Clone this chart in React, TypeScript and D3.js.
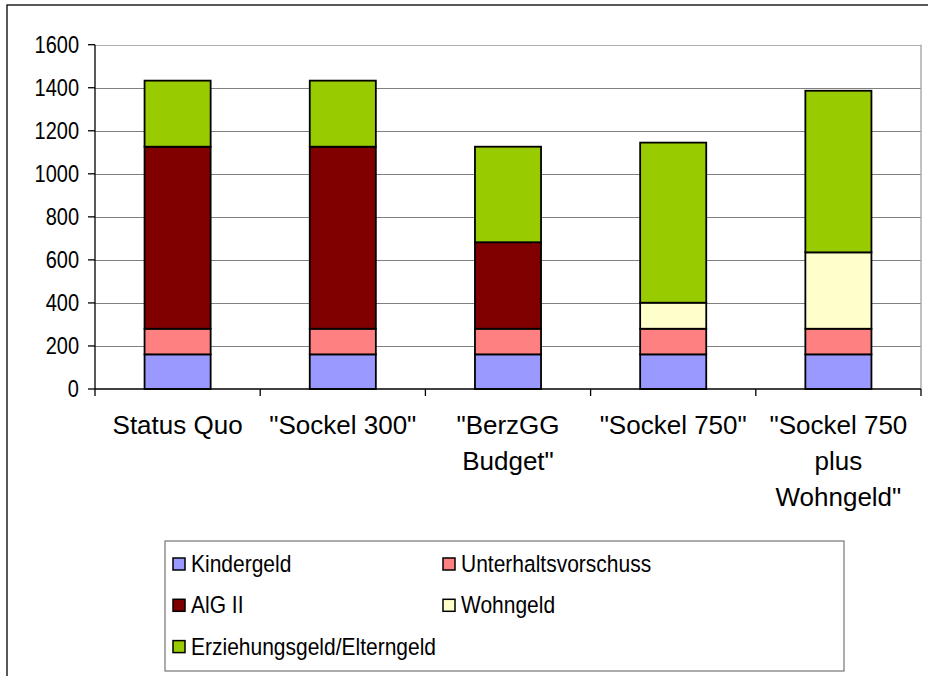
import React, { useRef, useEffect } from 'react';
import * as d3 from 'd3';

const categories = ['Status Quo', '"Sockel 300"', '"BerzGG Budget"', '"Sockel 750"', '"Sockel 750 plus Wohngeld"'];
const categoryLines = [['Status Quo'], ['"Sockel 300"'], ['"BerzGG', 'Budget"'], ['"Sockel 750"'], ['"Sockel 750', 'plus', 'Wohngeld"']];

const seriesNames = ['Kindergeld', 'Unterhaltsvorschuss', 'AlG II', 'Wohngeld', 'Erziehungsgeld/Elterngeld'];
const kindergeld = [161, 161, 161, 161, 161];
const unterhalt = [119, 119, 119, 119, 119];
const alg2 = [846, 846, 402, 0, 0];
const wohngeld = [0, 0, 0, 121, 355];
const erziehungsgeld = [307, 307, 444, 744, 751];
const colors = ['#9999ff', '#ff8080', '#800000', '#ffffcc', '#99cc00'];
const yTicks = [0, 200, 400, 600, 800, 1000, 1200, 1400, 1600];

const App = () => {
  const svgRef = useRef<SVGSVGElement>(null);

  useEffect(() => {
    const svg = d3.select(svgRef.current);
    svg.selectAll('*').remove();

    const left = 95, right = 921, top = 44.7, bottom = 389;
    const font = 'Arial, "Liberation Sans", sans-serif';

    // Rahmen
    svg.append('rect').attr('x', 7).attr('y', 5).attr('width', 940).attr('height', 700)
      .attr('fill', 'white').attr('stroke', '#000').attr('stroke-width', 1.3);

    const x = d3.scaleBand<string>().domain(categories).range([left, right]).paddingInner(0.6).paddingOuter(0.3);
    const xEdge = d3.scaleLinear().domain([0, categories.length]).range([left, right]);
    const y = d3.scaleLinear().domain([0, 1600]).range([bottom, top]);

    // Gitter
    svg.append('g').selectAll('line').data(yTicks.slice(1)).join('line')
      .attr('x1', left).attr('x2', right)
      .attr('y1', d => Math.round(y(d)) + 0.5).attr('y2', d => Math.round(y(d)) + 0.5)
      .attr('stroke', d => (d === 1600 ? '#b0b0b0' : '#808080')).attr('stroke-width', 1);
    svg.append('line').attr('x1', right).attr('x2', right).attr('y1', top).attr('y2', bottom)
      .attr('stroke', '#a0a0a0').attr('stroke-width', 1.3);

    // Balken
    const rows = categories.map((c, i) => ({
      cat: c,
      s0: kindergeld[i], s1: unterhalt[i], s2: alg2[i], s3: wohngeld[i], s4: erziehungsgeld[i],
    }));
    const stack = d3.stack<any>().keys(['s0', 's1', 's2', 's3', 's4'])(rows);
    stack.forEach((layer, li) => {
      svg.append('g').selectAll('rect').data(layer.filter(d => d[1] - d[0] > 0)).join('rect')
        .attr('x', d => x(d.data.cat)!)
        .attr('y', d => y(d[1]))
        .attr('width', x.bandwidth())
        .attr('height', d => y(d[0]) - y(d[1]))
        .attr('fill', colors[li])
        .attr('stroke', '#000').attr('stroke-width', 1.8);
    });

    // Achsen
    svg.append('line').attr('x1', left).attr('x2', right).attr('y1', bottom).attr('y2', bottom)
      .attr('stroke', '#000').attr('stroke-width', 1.3);
    svg.append('line').attr('x1', left).attr('x2', left).attr('y1', top).attr('y2', bottom + 7)
      .attr('stroke', '#000').attr('stroke-width', 1.3);
    svg.append('g').selectAll('line').data(d3.range(1, categories.length + 1)).join('line')
      .attr('x1', d => xEdge(d)).attr('x2', d => xEdge(d)).attr('y1', bottom).attr('y2', bottom + 7)
      .attr('stroke', '#000').attr('stroke-width', 1.3);
    svg.append('g').selectAll('line').data(yTicks).join('line')
      .attr('x1', left - 7).attr('x2', left).attr('y1', d => y(d)).attr('y2', d => y(d))
      .attr('stroke', '#000').attr('stroke-width', 1.3);

    // Texte sind im Original leicht in die Höhe gezogen
    svg.append('g').selectAll('text').data(yTicks).join('text')
      .attr('transform', d => `translate(79,${y(d)}) scale(1,1.17)`).attr('dy', '0.36em')
      .attr('text-anchor', 'end').attr('font-family', font).attr('font-size', 20)
      .text(d => d);

    const labels = svg.append('g').selectAll('text').data(categories).join('text')
      .attr('x', d => x(d)! + x.bandwidth() / 2).attr('y', 434)
      .attr('text-anchor', 'middle').attr('font-family', font).attr('font-size', 26);
    labels.each(function (d, i) {
      d3.select(this).selectAll('tspan').data(categoryLines[i]).join('tspan')
        .attr('x', x(d)! + x.bandwidth() / 2).attr('dy', (_, j) => (j === 0 ? 0 : 36))
        .text(t => t);
    });

    // Legende
    const lg = svg.append('g');
    lg.append('rect').attr('x', 165).attr('y', 541).attr('width', 679).attr('height', 130)
      .attr('fill', 'white').attr('stroke', '#808080').attr('stroke-width', 1.3);
    seriesNames.forEach((name, i) => {
      const cx = i % 2 === 0 ? 173 : 443;
      const cy = 563 + Math.floor(i / 2) * 41.3;
      lg.append('rect').attr('x', cx).attr('y', cy - 5).attr('width', 12).attr('height', 12)
        .attr('fill', colors[i]).attr('stroke', '#000').attr('stroke-width', 1.5);
      lg.append('text').attr('transform', `translate(${cx + 18},${cy}) scale(1,1.18)`).attr('dy', '0.36em')
        .attr('font-family', font).attr('font-size', 21).text(name);
    });
  }, []);

  return (
    <svg ref={svgRef} width="928" height="676" style={{ position: 'absolute', left: 0, top: 0 }}></svg>
  );
};

export default App;
